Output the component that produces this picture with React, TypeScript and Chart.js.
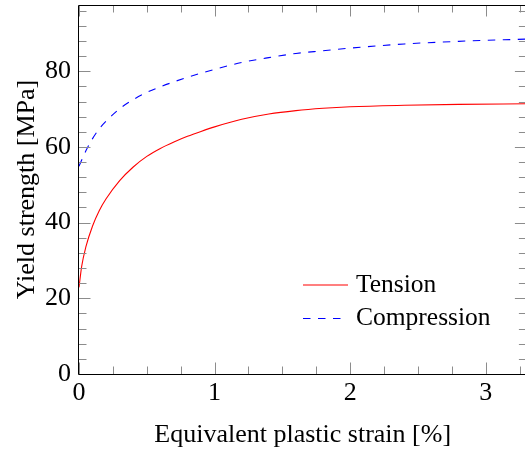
import React, { useEffect, useRef } from "react";
import { Chart, registerables } from "chart.js";

Chart.register(...registerables);

// ---- data ----
const tensionStrain = [0, 0.02, 0.05, 0.1, 0.15, 0.2, 0.3, 0.4, 0.5, 0.6, 0.7, 0.8, 0.9, 1.0, 1.2, 1.4, 1.6, 1.8, 2.0, 2.4, 2.8, 3.3];
const tensionYield = [22.9, 28.5, 33.5, 39.1, 43.2, 46.3, 51.1, 54.7, 57.5, 59.6, 61.3, 62.8, 64.1, 65.3, 67.3, 68.7, 69.6, 70.2, 70.6, 71.0, 71.25, 71.4];

const compressionStrain = [0, 0.05, 0.1, 0.15, 0.2, 0.3, 0.4, 0.5, 0.6, 0.7, 0.8, 0.9, 1.0, 1.2, 1.4, 1.6, 1.8, 2.0, 2.4, 2.8, 3.3];
const compressionYield = [54.9, 58.9, 62.2, 64.8, 66.8, 70.1, 72.5, 74.4, 75.9, 77.2, 78.4, 79.5, 80.5, 82.3, 83.6, 84.7, 85.4, 86.1, 87.2, 87.9, 88.5];

const seriesLabels = ["Tension", "Compression"];
const xTickValues = [0, 1, 2, 3];
const yTickValues = [0, 20, 40, 60, 80];
const xMinorStep = 0.25;
const yMinorStep = 4;
const xRange = [0, 3.3];
const yRange = [0, 97.5];
const xTitle = "Equivalent plastic strain [%]";
const yTitle = "Yield strength [MPa]";

const FONT = '"Liberation Serif", "Times New Roman", serif';

export default function App() {
  const ref = useRef<HTMLCanvasElement>(null);

  useEffect(() => {
    document.body.style.margin = "0";
    const canvas = ref.current;
    if (!canvas) return;

    const framePlugin = {
      id: "pgfFrame",
      afterDatasetsDraw(chart: any) {
        const { ctx, chartArea: a, scales } = chart;
        const xs = scales.x;
        const ys = scales.y;
        ctx.save();
        ctx.strokeStyle = "rgb(140,140,140)";
        ctx.lineWidth = 1;
        for (let i = 0; i * xMinorStep <= xRange[1] + 1e-9; i++) {
          const v = i * xMinorStep;
          const major = Math.abs(v - Math.round(v)) < 1e-9;
          const len = major ? 11.5 : 7.5;
          const px = Math.round(xs.getPixelForValue(v)) + 0.5;
          ctx.beginPath();
          ctx.moveTo(px, a.bottom);
          ctx.lineTo(px, a.bottom - len);
          ctx.moveTo(px, a.top);
          ctx.lineTo(px, a.top + len);
          ctx.stroke();
        }
        for (let i = 0; i * yMinorStep <= yRange[1] + 1e-9; i++) {
          const v = i * yMinorStep;
          const major = v % 20 === 0;
          const len = major ? 11.5 : 7.5;
          const py = Math.round(ys.getPixelForValue(v)) + 0.5;
          ctx.beginPath();
          ctx.moveTo(a.left, py);
          ctx.lineTo(a.left + len, py);
          ctx.moveTo(a.right, py);
          ctx.lineTo(a.right - len, py);
          ctx.stroke();
        }
        ctx.strokeStyle = "#000";
        ctx.lineWidth = 1;
        ctx.beginPath();
        ctx.rect(Math.round(a.left) - 0.5, Math.round(a.top) + 0.5, Math.round(a.right - a.left), Math.round(a.bottom - a.top));
        ctx.stroke();

        // legend
        const ds = chart.data.datasets;
        const rows = [285, 318.5];
        ctx.font = `25.5px ${FONT}`;
        ctx.textBaseline = "middle";
        ctx.textAlign = "left";
        ds.forEach((d: any, i: number) => {
          const y = rows[i];
          ctx.strokeStyle = d.borderColor;
          ctx.lineWidth = d.borderWidth;
          ctx.setLineDash(d.borderDash || []);
          ctx.beginPath();
          ctx.moveTo(303, y);
          ctx.lineTo(348, y);
          ctx.stroke();
          ctx.setLineDash([]);
          ctx.fillStyle = "#000";
          ctx.fillText(d.label, 356, y);
        });
        ctx.restore();
      },
    };

    const toPoints = (xsArr: number[], ysArr: number[]) => xsArr.map((x, i) => ({ x, y: ysArr[i] }));

    const chart = new Chart(canvas, {
      type: "line",
      data: {
        datasets: [
          {
            label: seriesLabels[0],
            data: toPoints(tensionStrain, tensionYield),
            borderColor: "#ff0000",
            borderWidth: 1.1,
            pointRadius: 0,
            cubicInterpolationMode: "monotone",
            fill: false,
          },
          {
            label: seriesLabels[1],
            data: toPoints(compressionStrain, compressionYield),
            borderColor: "#0000ff",
            borderWidth: 1.1,
            borderDash: [7.5, 7.5],
            pointRadius: 0,
            cubicInterpolationMode: "monotone",
            fill: false,
          },
        ],
      },
      options: {
        responsive: false,
        animation: false,
        devicePixelRatio: 1,
        layout: { padding: { top: 5, right: 1.6, left: 0, bottom: 0 } },
        plugins: { legend: { display: false }, tooltip: { enabled: false } },
        scales: {
          x: {
            type: "linear",
            min: xRange[0],
            max: xRange[1],
            grid: { display: false, drawTicks: false },
            border: { display: false },
            afterBuildTicks: (s: any) => {
              s.ticks = xTickValues.map((value) => ({ value }));
            },
            afterFit: (s: any) => {
              s.height = 82;
              s.paddingLeft = 0;
              s.paddingRight = 0;
              s.paddingTop = 0;
              s.paddingBottom = 0;
            },
            ticks: {
              font: { family: FONT, size: 26 },
              color: "#000",
              padding: 4,
              maxRotation: 0,
              callback: (v: any) => String(v),
            },
            title: {
              display: true,
              text: xTitle,
              font: { family: FONT, size: 26 },
              color: "#000",
              padding: { top: 0, bottom: 5.4 },
            },
          },
          y: {
            type: "linear",
            min: yRange[0],
            max: yRange[1],
            grid: { display: false, drawTicks: false },
            border: { display: false },
            afterBuildTicks: (s: any) => {
              s.ticks = yTickValues.map((value) => ({ value }));
            },
            afterFit: (s: any) => {
              s.width = 79;
              s.paddingLeft = 0;
              s.paddingRight = 0;
              s.paddingTop = 0;
              s.paddingBottom = 0;
            },
            ticks: {
              font: { family: FONT, size: 26 },
              color: "#000",
              padding: 8,
              callback: (v: any) => String(v),
            },
            title: {
              display: true,
              text: yTitle,
              font: { family: FONT, size: 26 },
              color: "#000",
              padding: { top: 12, bottom: 0 },
            },
          },
        },
      },
      plugins: [framePlugin],
    } as any);

    return () => chart.destroy();
  }, []);

  return (
    <div style={{ width: 525, height: 456, overflow: "hidden" }}>
      <canvas ref={ref} width={528} height={456} style={{ display: "block" }} />
    </div>
  );
}
